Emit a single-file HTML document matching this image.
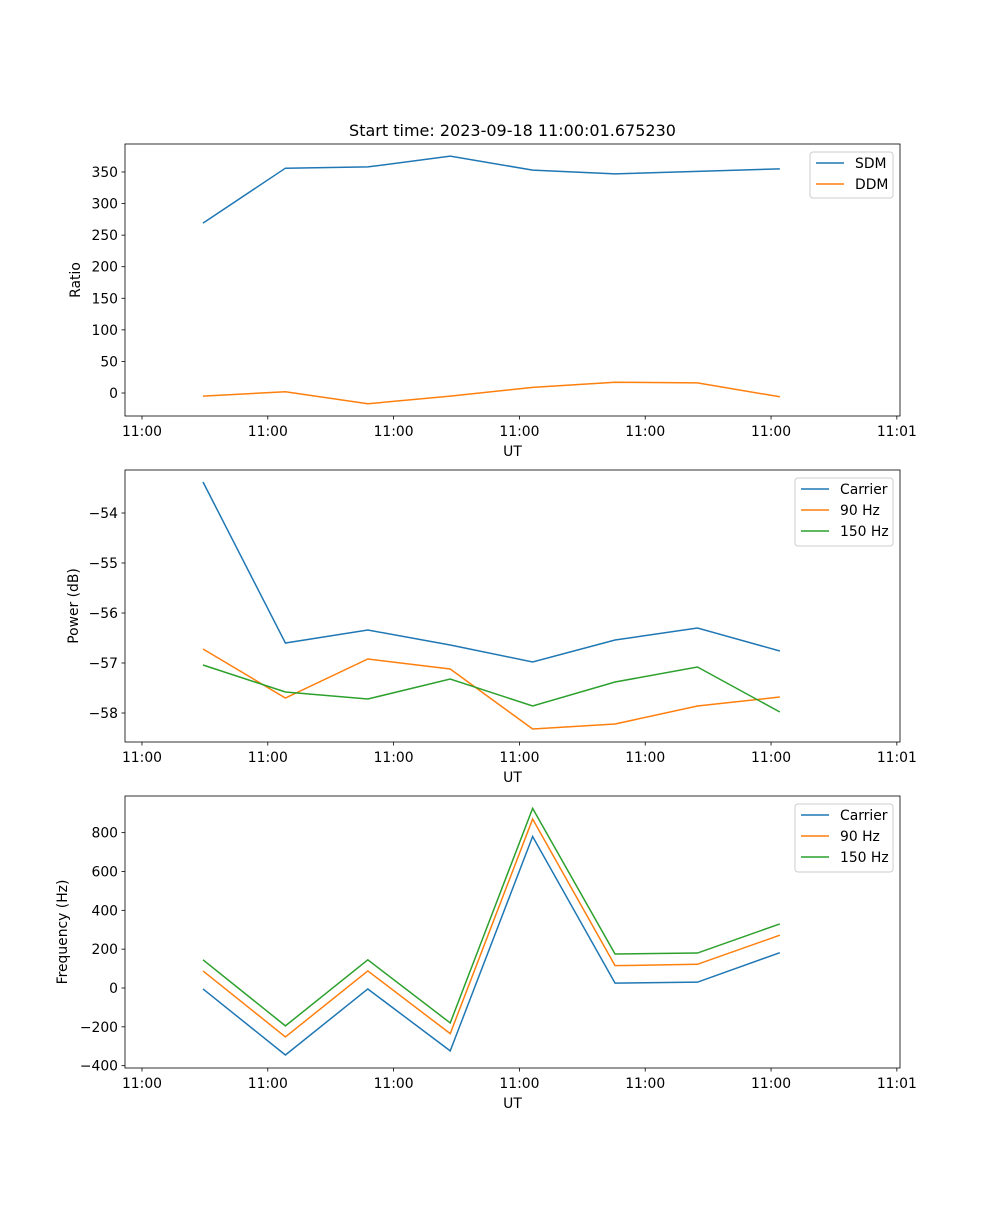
<!DOCTYPE html>
<html><head><meta charset="utf-8"><style>
body{margin:0;background:#fff}
svg text{font-family:"DejaVu Sans","Liberation Sans",sans-serif;fill:#000}
</style></head><body>
<svg id="fig" width="1000" height="1200" xmlns="http://www.w3.org/2000/svg">
<rect width="1000" height="1200" fill="#fff"/>
<text x="512.5" y="136" font-size="16" text-anchor="middle">Start time: 2023-09-18 11:00:01.675230</text>
</svg>
<script>
const times = [4.85, 11.4, 17.95, 24.5, 31.05, 37.6, 44.15, 50.7];
const xTickVals = [0, 10, 20, 30, 40, 50, 60];
const xTickLabels = ["11:00","11:00","11:00","11:00","11:00","11:00","11:01"];
const sdm = [269, 356, 358, 375, 353, 347, 351, 355];
const ddm = [-5, 2, -17, -5, 9, 17, 16, -6];
const powCarrier = [-53.38, -56.6, -56.34, -56.64, -56.98, -56.54, -56.3, -56.76];
const pow90 = [-56.72, -57.7, -56.92, -57.12, -58.32, -58.22, -57.86, -57.68];
const pow150 = [-57.04, -57.58, -57.72, -57.32, -57.86, -57.38, -57.08, -57.98];
const freqCarrier = [-5, -345, -5, -324, 780, 25, 30, 182];
const freq90 = [88, -252, 88, -235, 870, 115, 122, 272];
const freq150 = [145, -195, 145, -180, 925, 175, 180, 330];
const ticks1 = [0, 50, 100, 150, 200, 250, 300, 350];
const ticks2 = [-58, -57, -56, -55, -54];
const ticks3 = [-400, -200, 0, 200, 400, 600, 800];

const NS = "http://www.w3.org/2000/svg";
const svg = document.getElementById("fig");
const L = 125, R = 900, xmin = -1.35, xmax = 60.25;
const sx = v => L + (v - xmin) / (xmax - xmin) * (R - L);
function mk(tag, attrs, parent) {
  const e = document.createElementNS(NS, tag);
  for (const k in attrs) e.setAttribute(k, attrs[k]);
  (parent || svg).appendChild(e);
  return e;
}
function fmt(v) { return v < 0 ? "\u2212" + Math.abs(v) : String(v); }
function panel(name, top, bottom, ymin, ymax, yticks, ylabel, series, legend) {
  const g = mk("g", {});
  
  
  const sy = v => bottom - (v - ymin) / (ymax - ymin) * (bottom - top);
  yticks.forEach(t => {
    const y = sy(t);
    mk("line", {x1: L - 3.5, x2: L, y1: y, y2: y, stroke: "#000", "stroke-width": 0.8}, g);
    const tx = mk("text", {x: L - 7, y: y + 5, "font-size": 13.9, "text-anchor": "end"}, g);
    tx.textContent = fmt(t);
    
    
  });
  xTickVals.forEach((t, i) => {
    const x = sx(t);
    mk("line", {x1: x, x2: x, y1: bottom, y2: bottom + 3.5, stroke: "#000", "stroke-width": 0.8}, g);
    const tx = mk("text", {x: x, y: bottom + 20, "font-size": 13.9, "text-anchor": "middle"}, g);
    tx.textContent = xTickLabels[i];
    
    
  });
  const xl = mk("text", {x: (L + R) / 2, y: bottom + 40, "font-size": 13.9, "text-anchor": "middle"}, g);
  xl.textContent = "UT";
  
  
  const yx = ylabel === "Ratio" ? 80 : 78;
  const yl = mk("text", {x: 0, y: 0, "font-size": 13.9, "text-anchor": "middle", transform: `translate(${ylabel==="Frequency (Hz)"?67:yx},${(top+bottom)/2}) rotate(-90)`}, g);
  yl.textContent = ylabel;
  
  
  series.forEach(s => {
    const p = mk("polyline", {points: s.vals.map((v, i) => sx(times[i]) + "," + sy(v)).join(" "), fill: "none", stroke: s.color, "stroke-width": 1.5}, g);
    
    
  });
  mk("rect", {x: L, y: top, width: R - L, height: bottom - top, fill: "none", stroke: "#000", "stroke-width": 0.8}, g);
  const lg = mk("g", {}, g);
  
  
  mk("rect", {x: legend.x, y: top + 8, width: R - 7 - legend.x, height: 22 * series.length + 2, rx: 3, fill: "#fff", stroke: "#ccc", "stroke-width": 1}, lg);
  series.forEach((s, i) => {
    const y = top + 19 + 21 * i;
    mk("line", {x1: legend.x + 6, x2: legend.x + 34, y1: y, y2: y, stroke: s.color, "stroke-width": 1.5}, lg);
    const t = mk("text", {x: legend.x + 45, y: y + 5, "font-size": 13.9}, lg);
    t.textContent = s.label;
    
    
  });
}
panel("ratio-panel", 144, 416, -36.4, 394.3, ticks1, "Ratio",
  [{vals: sdm, color: "#1f77b4", label: "SDM", name: "sdm-line"},
   {vals: ddm, color: "#ff7f0e", label: "DDM", name: "ddm-line"}], {x: 810});
panel("power-panel", 470, 742, -58.58, -53.14, ticks2, "Power (dB)",
  [{vals: powCarrier, color: "#1f77b4", label: "Carrier", name: "carrier-power-line"},
   {vals: pow90, color: "#ff7f0e", label: "90 Hz", name: "90hz-power-line"},
   {vals: pow150, color: "#2ca02c", label: "150 Hz", name: "150hz-power-line"}], {x: 795});
panel("frequency-panel", 796, 1068, -412, 988.7, ticks3, "Frequency (Hz)",
  [{vals: freqCarrier, color: "#1f77b4", label: "Carrier", name: "carrier-frequency-line"},
   {vals: freq90, color: "#ff7f0e", label: "90 Hz", name: "90hz-frequency-line"},
   {vals: freq150, color: "#2ca02c", label: "150 Hz", name: "150hz-frequency-line"}], {x: 795});
</script>
</body></html>
